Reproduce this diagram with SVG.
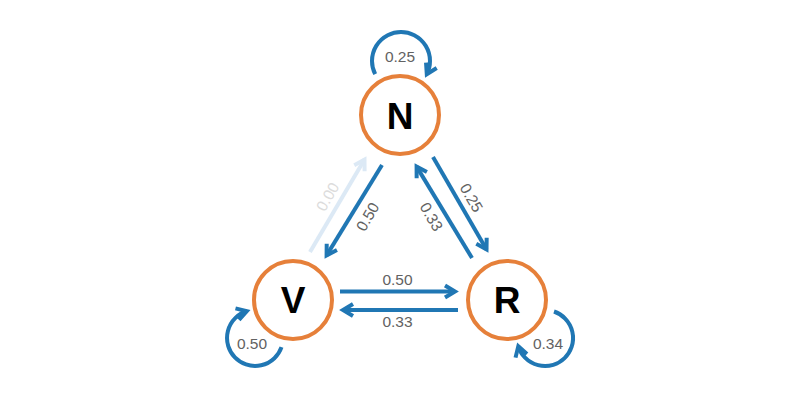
<svg xmlns="http://www.w3.org/2000/svg" width="800" height="403" viewBox="0 0 800 403">
<style>
.node{fill:#ffffff;stroke:#e6803a;stroke-width:4}
.nl{font-family:"Liberation Sans",Arial,sans-serif;font-weight:bold;font-size:37px;fill:#000;text-anchor:middle}
.e{fill:none;stroke:#2077b4;stroke-width:4;marker-end:url(#ah)}
.ef{fill:none;stroke:#dce9f5;stroke-width:4;marker-end:url(#ahf)}
.el{font-family:"Liberation Sans",Arial,sans-serif;font-size:15.5px;fill:#626262;text-anchor:middle}
.elf{font-family:"Liberation Sans",Arial,sans-serif;font-size:15.5px;fill:#dcdcdc;text-anchor:middle}
</style>
<defs>
<marker id="ah" markerUnits="userSpaceOnUse" markerWidth="24" markerHeight="24" viewBox="-16 -12 24 24" refX="0" refY="0" orient="auto" overflow="visible">
<path d="M-10,-6 L0,0 L-10,6" fill="none" stroke="#2077b4" stroke-width="4"/>
</marker>
<marker id="ahf" markerUnits="userSpaceOnUse" markerWidth="24" markerHeight="24" viewBox="-16 -12 24 24" refX="0" refY="0" orient="auto" overflow="visible">
<path d="M-10,-6 L0,0 L-10,6" fill="none" stroke="#dce9f5" stroke-width="4"/>
</marker>
</defs>
<rect width="800" height="403" fill="#ffffff"/>
<g id="connectors">
<path class="ef" d="M310,252 L364.5,159.6"/>
<path class="e" d="M382,165 L326.6,255.4"/>
<path class="e" d="M433,157 L486.5,249.4"/>
<path class="e" d="M472,258 L416.6,166.6"/>
<path class="e" d="M340,291.5 L455,291.5"/>
<path class="e" d="M458,310 L343,310"/>
<path class="e" d="M375.2,74.2 A29,29 0 1 1 426.8,74.2"/>
<path class="e" d="M281.5,347.1 A28,28 0 1 1 246.8,311.2"/>
<path class="e" d="M554,311.5 A28,28 0 1 1 518.3,346.3"/>
<text class="elf" transform="translate(328,197) rotate(-60)" dy="5">0.00</text>
<text class="el" transform="translate(368,217) rotate(-60)" dy="5">0.50</text>
<text class="el" transform="translate(431,217) rotate(60)" dy="5">0.33</text>
<text class="el" transform="translate(471,198) rotate(60)" dy="5">0.25</text>
<text class="el" x="397.5" y="285">0.50</text>
<text class="el" x="397.5" y="327">0.33</text>
<text class="el" x="400" y="62">0.25</text>
<text class="el" x="252" y="349">0.50</text>
<text class="el" x="548" y="349">0.34</text>
</g>
<g id="node-N">
<circle class="node" cx="400" cy="115" r="39"/>
<text class="nl" x="400" y="129">N</text>
</g>
<g id="node-V">
<circle class="node" cx="293" cy="300" r="39"/>
<text class="nl" x="293" y="313">V</text>
</g>
<g id="node-R">
<circle class="node" cx="507" cy="300" r="39"/>
<text class="nl" x="507" y="313">R</text>
</g>
</svg>
